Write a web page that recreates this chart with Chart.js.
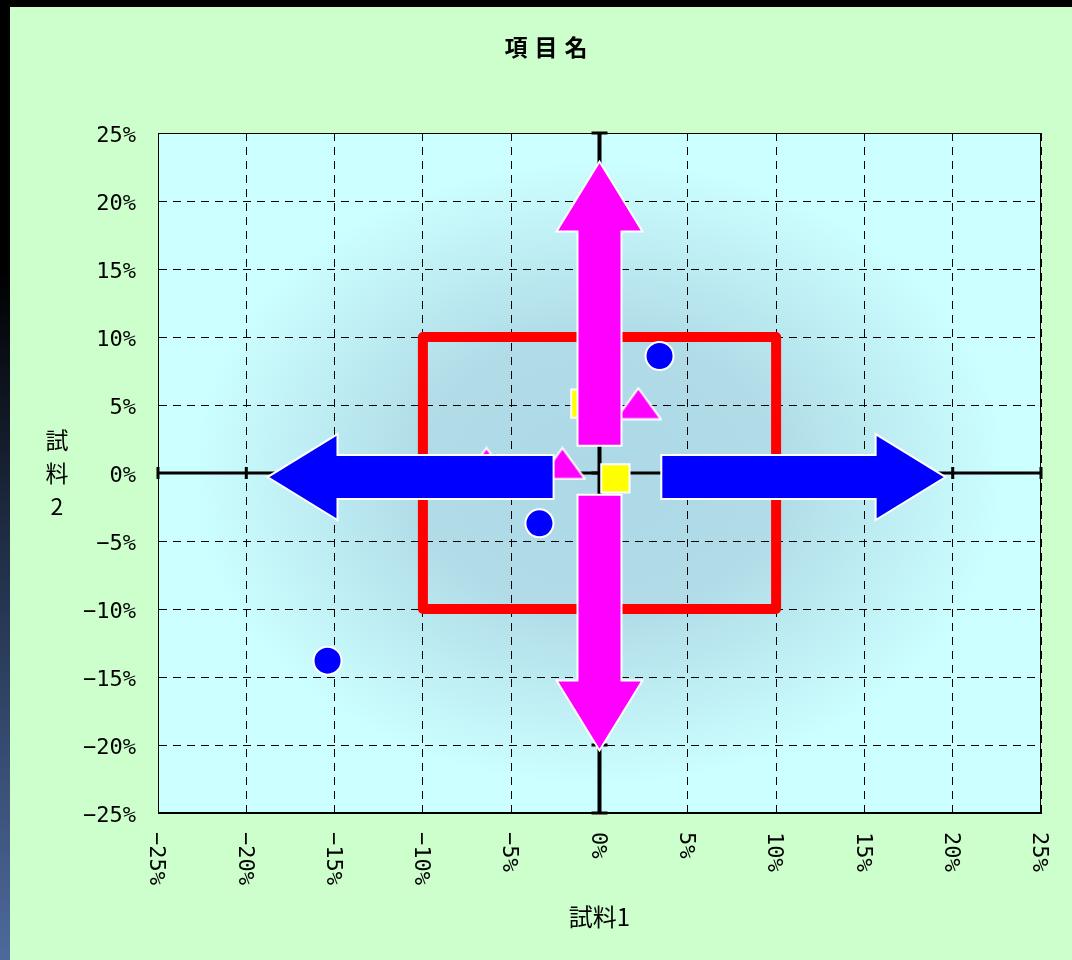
<!DOCTYPE html>
<html lang="ja">
<head>
<meta charset="utf-8">
<title>項目名</title>
<script src="https://cdn.jsdelivr.net/npm/chart.js@4/dist/chart.umd.min.js"></script>
<style>
  html, body { margin: 0; padding: 0; }
  body { width: 1072px; height: 960px; background: #ccffcc; position: relative; overflow: hidden; }
  #top-band { position: absolute; left: 0; top: 0; width: 1072px; height: 7px; background: #000; }
  #left-strip { position: absolute; left: 0; top: 0; width: 10px; height: 960px;
    background: linear-gradient(#000 0%, #000 28%, #1e2b42 55%, #4d6a9c 100%); }
  #wrap { position: absolute; left: 10px; top: 7px; width: 1062px; height: 953px; }
</style>
</head>
<body>
<div id="top-band"></div>
<div id="left-strip"></div>
<div id="wrap"><canvas id="chart"></canvas></div>
<script>
// ── data (percent) ──────────────────────────────────────────────
const tickValues = [-25, -20, -15, -10, -5, 0, 5, 10, 15, 20, 25];
const tickLabels = ['−25%', '−20%', '−15%', '−10%', '−5%', '0%', '5%', '10%', '15%', '20%', '25%'];

const titleText = '項目名';
const xTitle = '試料1';
const yTitle = '試料2';

// blue circles
const circleX = [3.4, -3.4, -15.4];
const circleY = [8.6, -3.7, -13.8];
// magenta triangles
const triangleX = [2.2, -2.1, -6.4];
const triangleY = [5.1, 0.7, 0.7];
// yellow squares
const squareX = [0.9, -0.8];
const squareY = [-0.4, 5.1];
// red frame
const frameX = [-10, 10, 10, -10, -10];
const frameY = [10, 10, -10, -10, 10];
// block arrows: from -> to
const arrowFromX = [0, 0, -2.6, 3.5];
const arrowFromY = [2.0, -1.6, -0.3, -0.3];
const arrowToX = [0, 0, -18.8, 19.6];
const arrowToY = [22.9, -20.4, -0.3, -0.3];
const arrowColors = ['#ff00ff', '#ff00ff', '#0000ff', '#0000ff'];

const tickFont = '"DejaVu Sans Mono", "Liberation Mono", monospace';
const cjkFont = '"Noto Sans CJK JP", "Noto Sans", sans-serif';

function pts(xs, ys) {
  return xs.map((x, i) => ({ x, y: ys[i] }));
}

// wide isosceles triangle marker with white outline
function makeTriangle() {
  const c = document.createElement('canvas');
  c.width = 48; c.height = 34;
  const g = c.getContext('2d');
  g.beginPath();
  g.moveTo(24, 1.5);
  g.lineTo(46.5, 32.5);
  g.lineTo(1.5, 32.5);
  g.closePath();
  g.fillStyle = '#ff00ff';
  g.fill();
  g.strokeStyle = '#ffffff';
  g.lineWidth = 2;
  g.stroke();
  return c;
}

// ── plugins ─────────────────────────────────────────────────────
const plotBackground = {
  id: 'plotBackground',
  beforeDraw(chart) {
    const { ctx, chartArea: a } = chart;
    const cx = (a.left + a.right) / 2, cy = (a.top + a.bottom) / 2;
    const rx = a.width / 2, ry = a.height / 2;
    ctx.save();
    ctx.fillStyle = '#ccffff';
    ctx.fillRect(a.left, a.top, a.width, a.height);
    ctx.beginPath();
    ctx.rect(a.left, a.top, a.width, a.height);
    ctx.clip();
    ctx.translate(cx, cy);
    ctx.scale(1, ry / rx);
    const g = ctx.createRadialGradient(0, 0, 0, 0, 0, rx);
    g.addColorStop(0, '#add8e6');
    g.addColorStop(0.4, '#b0dbe7');
    g.addColorStop(0.92, '#ccffff');
    ctx.fillStyle = g;
    ctx.fillRect(-rx, -rx, 2 * rx, 2 * rx);
    ctx.restore();
  }
};

const zeroAxes = {
  id: 'zeroAxes',
  beforeDatasetsDraw(chart) {
    const { ctx, chartArea: a, scales: { x, y } } = chart;
    const x0 = x.getPixelForValue(0), y0 = y.getPixelForValue(0);
    ctx.save();
    ctx.strokeStyle = '#000';
    ctx.lineWidth = 1;
    ctx.strokeRect(a.left + 0.5, a.top + 0.5, a.width - 1, a.height - 1);
    ctx.lineWidth = 3;
    ctx.beginPath();
    ctx.moveTo(a.left, y0); ctx.lineTo(a.right, y0);
    ctx.stroke();
    ctx.lineWidth = 4;
    ctx.beginPath();
    ctx.moveTo(x0, a.top); ctx.lineTo(x0, a.bottom);
    ctx.stroke();
    ctx.lineWidth = 3;
    tickValues.forEach((v) => {
      const px = x.getPixelForValue(v), py = y.getPixelForValue(v);
      ctx.beginPath();
      ctx.moveTo(px, y0 - 6); ctx.lineTo(px, y0 + 6);
      ctx.moveTo(x0 - 8, py); ctx.lineTo(x0 + 8, py);
      ctx.stroke();
    });
    ctx.restore();
  }
};

function drawArrow(ctx, x1, y1, x2, y2, color) {
  const len = Math.hypot(x2 - x1, y2 - y1);
  const ang = Math.atan2(y2 - y1, x2 - x1);
  const shaft = 22, head = 43, headLen = 70;
  ctx.save();
  ctx.translate(x1, y1);
  ctx.rotate(ang);
  ctx.beginPath();
  ctx.moveTo(0, -shaft);
  ctx.lineTo(len - headLen, -shaft);
  ctx.lineTo(len - headLen, -head);
  ctx.lineTo(len, 0);
  ctx.lineTo(len - headLen, head);
  ctx.lineTo(len - headLen, shaft);
  ctx.lineTo(0, shaft);
  ctx.closePath();
  ctx.fillStyle = color;
  ctx.fill();
  ctx.strokeStyle = '#ffffff';
  ctx.lineWidth = 2;
  ctx.stroke();
  ctx.restore();
}

const arrowLayer = {
  id: 'arrowLayer',
  afterDatasetsDraw(chart) {
    const { ctx, scales: { x, y } } = chart;
    arrowFromX.forEach((fx, i) => {
      drawArrow(ctx,
        x.getPixelForValue(fx), y.getPixelForValue(arrowFromY[i]),
        x.getPixelForValue(arrowToX[i]), y.getPixelForValue(arrowToY[i]),
        arrowColors[i]);
    });
  }
};

const textLayer = {
  id: 'textLayer',
  afterDraw(chart) {
    const { ctx, chartArea: a, scales: { x } } = chart;
    ctx.save();
    ctx.fillStyle = '#000';

    // title, spaced characters
    ctx.font = `bold 23px ${cjkFont}`;
    ctx.textAlign = 'center';
    ctx.textBaseline = 'middle';
    const tc = chart.width / 2 + 5;
    [...titleText].forEach((ch, i) => ctx.fillText(ch, tc + (i - 1) * 30, 40));

    // y title, stacked
    ctx.font = `23px ${cjkFont}`;
    const cy = (a.top + a.bottom) / 2;
    [...yTitle].forEach((ch, i) => ctx.fillText(ch, 47, cy + (i - 1) * 33));

    // x tick labels, turned clockwise
    ctx.font = `22px ${tickFont}`;
    ctx.textAlign = 'left';
    tickValues.forEach((v, i) => {
      ctx.save();
      ctx.translate(x.getPixelForValue(v) - 2, a.bottom + 19);
      ctx.rotate(Math.PI / 2);
      ctx.fillText(tickLabels[i], 0, 0);
      ctx.restore();
    });
    ctx.restore();
  }
};

// ── chart ───────────────────────────────────────────────────────
const setTicks = (scale) => { scale.ticks = tickValues.map((v) => ({ value: v })); };

new Chart(document.getElementById('chart'), {
  type: 'scatter',
  data: {
    datasets: [
      {
        label: 'circle',
        data: pts(circleX, circleY),
        pointStyle: 'circle',
        pointRadius: 14,
        backgroundColor: '#0000ff',
        borderColor: '#ffffff',
        borderWidth: 2,
        order: 1,
      },
      {
        label: 'triangle',
        data: pts(triangleX, triangleY),
        pointStyle: makeTriangle(),
        order: 2,
      },
      {
        label: 'square',
        data: pts(squareX, squareY),
        pointStyle: 'rect',
        pointRadius: 20,
        backgroundColor: '#ffff00',
        borderColor: '#ffffff',
        borderWidth: 2,
        order: 3,
      },
      {
        label: 'frame',
        data: pts(frameX, frameY),
        showLine: true,
        pointRadius: 0,
        borderColor: '#ff0000',
        borderWidth: 10,
        borderJoinStyle: 'round',
        borderCapStyle: 'round',
        fill: false,
        order: 10,
      },
    ],
  },
  options: {
    responsive: true,
    maintainAspectRatio: false,
    animation: false,
    events: [],
    layout: { padding: { top: 126, right: 31, left: 0, bottom: 0 } },
    plugins: {
      legend: { display: false },
      tooltip: { enabled: false },
      title: { display: false },
    },
    scales: {
      x: {
        type: 'linear',
        min: -25,
        max: 25,
        afterBuildTicks: setTicks,
        afterFit: (s) => { s.height = 147; },
        ticks: { display: false },
        grid: { color: '#000', lineWidth: 1, drawTicks: false },
        border: { display: true, color: '#000', width: 1, dash: [8, 6] },
        title: {
          display: true,
          text: xTitle,
          color: '#000',
          font: { family: cjkFont, size: 24 },
          padding: { top: 0, bottom: 29 },
        },
      },
      y: {
        type: 'linear',
        min: -25,
        max: 25,
        afterBuildTicks: setTicks,
        afterFit: (s) => { s.width = 148; },
        ticks: {
          color: '#000',
          font: { family: tickFont, size: 22 },
          padding: 22,
          labelOffset: 3,
          callback: (v) => tickLabels[tickValues.indexOf(v)],
        },
        grid: { color: '#000', lineWidth: 1, drawTicks: false },
        border: { display: true, color: '#000', width: 1, dash: [8, 6] },
      },
    },
  },
  plugins: [plotBackground, zeroAxes, arrowLayer, textLayer],
});
</script>
</body>
</html>
